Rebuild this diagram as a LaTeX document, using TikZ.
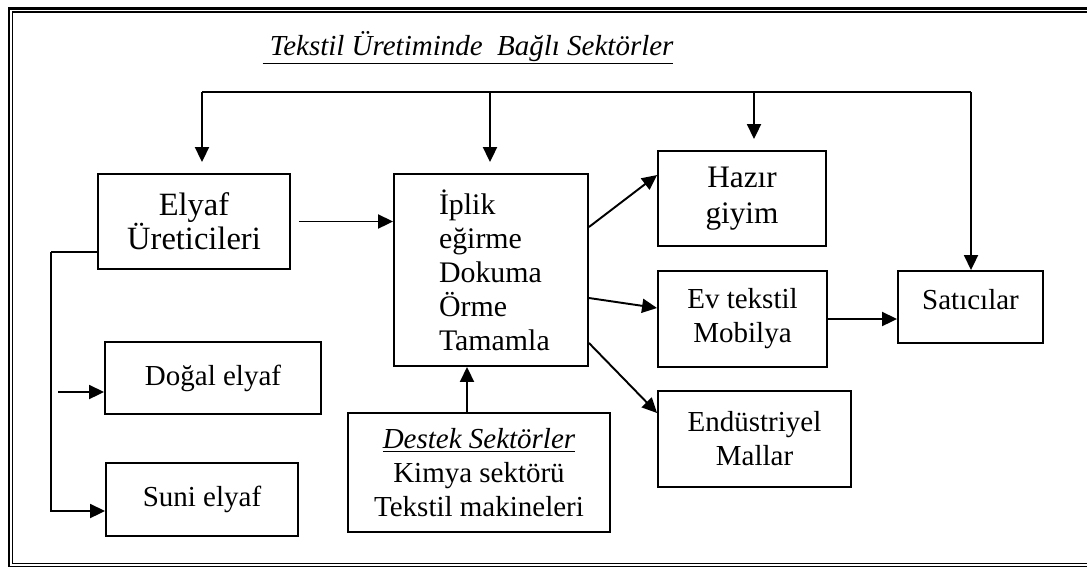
\documentclass[tikz,border=0pt]{standalone}
\usepackage{fontspec}
\setmainfont{Liberation Serif}
\usetikzlibrary{arrows.meta,calc}

\tikzset{
  kutu/.style={draw, line width=1.1pt, align=center, inner sep=0pt},
  ok/.style={-{Triangle[length=0.3cm,width=0.28cm]}, line width=1.1pt},
  hat/.style={line width=1.1pt},
}

\begin{document}
\begin{tikzpicture}[x=0.02cm, y=-0.02cm, font=\fontsize{16.5}{19.3}\selectfont]
\useasboundingbox (0,0) rectangle (1087,566);
% cerceve
\begin{scope}
  \clip (0,0) rectangle (1087,566);
  \draw[line width=1.7pt] (9,8.5) rectangle (1110,567.5);
  \draw[line width=1pt] (12.5,12) rectangle (1100,563.5);
\end{scope}

\node[anchor=base] (baslik) at (468,55)
  {\itshape\underline{\ Tekstil Üretiminde\ \ Bağlı Sektörler}};

% kutular
\node[kutu, minimum width=3.84cm, minimum height=1.9cm, font=\fontsize{18.5}{19.5}\selectfont] (elyaf) at (194,221.5) {Elyaf\\Üreticileri};
\node[kutu, minimum width=4.32cm, minimum height=1.44cm] (dogal) at (213,378) {Doğal elyaf};
\node[kutu, minimum width=3.84cm, minimum height=1.46cm] (suni) at (202,499.5) {Suni elyaf};
\node[kutu, align=left, text width=2.08cm, inner xsep=0.9cm, minimum height=3.84cm, font=\fontsize{17}{19.3}\selectfont] (iplik) at (491,270)
  {İplik\\eğirme\\Dokuma\\Örme\\Tamamla};
\node[kutu, minimum width=5.24cm, minimum height=2.38cm] (destek) at (479,472.5)
  {\underline{\textit{Destek Sektörler}}\\Kimya sektörü\\Tekstil makineleri};
\node[kutu, minimum width=3.36cm, minimum height=1.9cm, font=\fontsize{17.8}{20.5}\selectfont] (hazir) at (742,198.5) {Hazır\\giyim};
\node[kutu, minimum width=3.38cm, minimum height=1.92cm] (ev) at (742.5,319) {Ev tekstil\\Mobilya};
\node[kutu, minimum width=3.86cm, minimum height=1.92cm] (endus) at (754.5,439) {Endüstriyel\\Mallar};
\node[kutu, minimum width=2.9cm, minimum height=1.44cm, text depth=0.32cm] (satici) at (970.5,307) {Satıcılar};

% ust hat
\coordinate (b1) at (202,92);
\coordinate (b2) at (490,92);
\coordinate (b3) at (754,92);
\coordinate (b4) at (971,92);
\draw[hat] (b1) -- (b4);
\draw[ok, shorten >=0.22cm] (b1) -- (b1 |- elyaf.north);
\draw[ok, shorten >=0.22cm] (b2) -- (b2 |- iplik.north);
\draw[ok, shorten >=0.22cm] (b3) -- (b3 |- hazir.north);
\draw[ok] (b4) -- (b4 |- satici.north);

% elyaf kolu
\coordinate (s1) at (51,252);
\coordinate (s2) at (51,511);
\coordinate (s3) at (58,392);
\draw[hat] (s1 -| elyaf.west) -- (s1);
\draw[ok] (s1) -- (s2) -- (s2 -| suni.west);
\draw[ok] (s3) -- (s3 -| dogal.west);
\draw[ok, shorten <=0.16cm] (elyaf.east) -- (elyaf.east -| iplik.west);

% iplik ciktilari
\draw[ok] ([yshift=0.86cm]iplik.east) -- ([yshift=0.47cm]hazir.west);
\draw[ok] ([yshift=-0.56cm]iplik.east) -- ([yshift=0.22cm]ev.west);
\draw[ok] ([yshift=-1.46cm]iplik.east) -- ([yshift=0.52cm]endus.west);
\draw[ok] (ev.east) -- (ev.east -| satici.west);
\draw[ok] ([xshift=-0.24cm]destek.north) -- ([xshift=-0.24cm]destek.north |- iplik.south);
\end{tikzpicture}
\end{document}
